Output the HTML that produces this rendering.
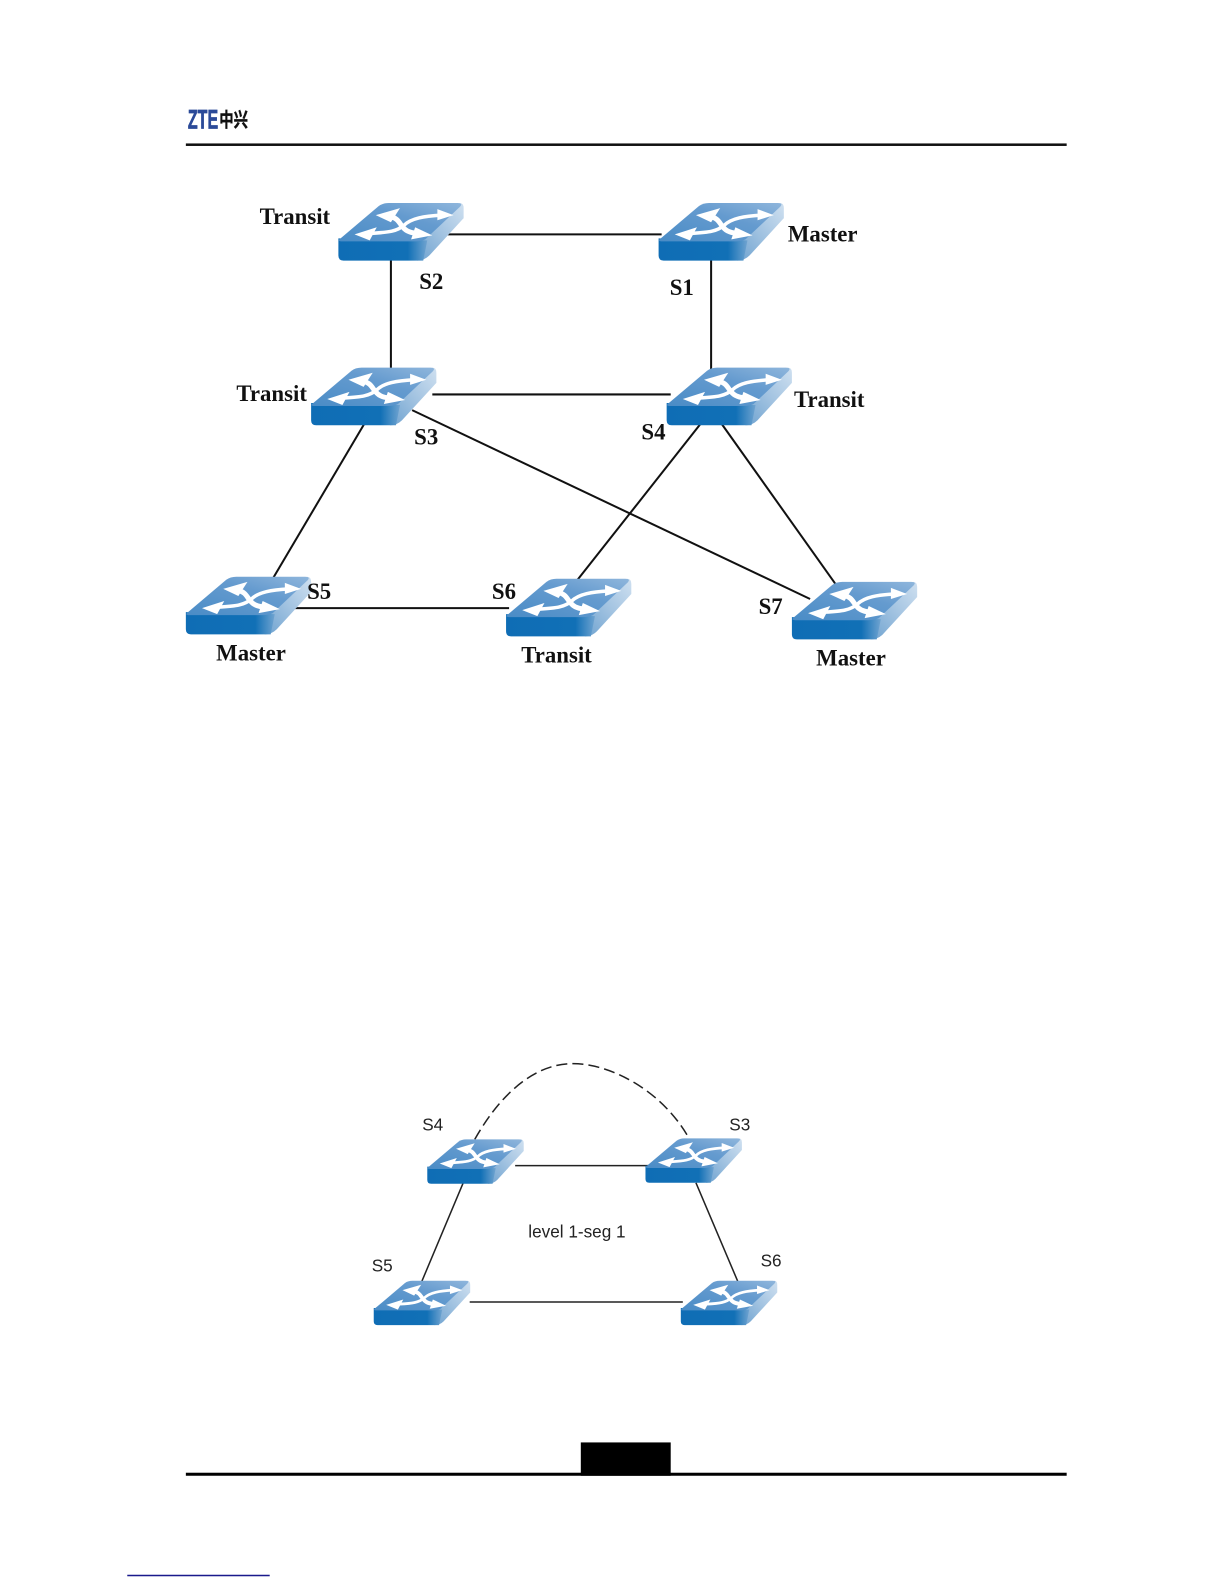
<!DOCTYPE html>
<html><head><meta charset="utf-8"><style>
html,body{margin:0;padding:0;background:#fff}
svg{display:block}
.b{font:bold 22.600px "Liberation Serif",serif;fill:#111}
.s{font:17px "Liberation Sans",sans-serif;fill:#222}
</style></head><body>
<svg width="1224" height="1584" viewBox="0 0 1224 1584" xmlns="http://www.w3.org/2000/svg">
<defs>
<linearGradient id="top" x1="0" y1="1" x2="1" y2="0"><stop offset="0" stop-color="#4a8cc6"/><stop offset=".6" stop-color="#659bcf"/><stop offset="1" stop-color="#8fb6dc"/></linearGradient>
<linearGradient id="front" x1="0" y1="0" x2="1" y2="0"><stop offset="0" stop-color="#0f6db5"/><stop offset=".78" stop-color="#1170b6"/><stop offset="1" stop-color="#6fa3d0"/></linearGradient>
<linearGradient id="side" x1="0" y1="1" x2="1" y2="0"><stop offset="0" stop-color="#6fa3d0"/><stop offset=".5" stop-color="#a2c3e1"/><stop offset="1" stop-color="#cfe0f0"/></linearGradient>
<g id="sw">
<path d="M80 37 L120 0 Q124 0 124 5 L124 15 L90 52 Q85 57 78 57 Z" fill="url(#side)"/>
<path d="M0 35 L88 37 L84 57 L5 57 Q0 57 0 52 Z" fill="url(#front)"/>
<path d="M1 36 L40 3 Q44 0 50 0 L118 0 Q124 0 120 4 L86 36 Q82 38 76 38 L4 38 Q-1 38 1 36 Z" fill="url(#top)"/>
<g fill="#fff">
<path d="M37 12 L61 5 L52 19 Z"/>
<path d="M114 12 L98 6 L98 17 Z"/>
<path d="M16 31 L38 24 L31 37 Z"/>
<path d="M93 32 L76 24 L72 36 Z"/>
</g>
<g fill="none" stroke="#fff" stroke-linecap="round">
<path d="M50 13 C60 15 60 20 64 24 C67 28 72 30 80 30" stroke-width="5"/>
<path d="M33 30 C50 29 58 28 65 22 C72 15 85 13 102 12" stroke-width="3.500"/>
</g>
</g>
</defs>
<rect width="1224" height="1584" fill="#fff"/>
<g transform="scale(1.0101)">

<!-- header -->
<text x="186" y="127" font-family="'Liberation Sans',sans-serif" font-weight="bold" font-size="27" fill="#2b4a98" stroke="#2b4a98" stroke-width=".7" textLength="30" lengthAdjust="spacingAndGlyphs">ZTE</text>
<text transform="translate(217 125) scale(.75 1)" font-family="'Liberation Sans','Noto Sans CJK SC',sans-serif" font-weight="bold" font-size="19" fill="#111" stroke="#111" stroke-width=".4">中兴</text>
<rect x="184" y="142" width="872" height="2.500" fill="#111"/>

<!-- top diagram lines -->
<g stroke="#111" stroke-width="2" fill="none">
<line x1="443" y1="232" x2="655" y2="232"/>
<line x1="387" y1="255" x2="387" y2="368"/>
<line x1="704" y1="255" x2="704" y2="368"/>
<line x1="428" y1="390.500" x2="664" y2="390.500"/>
<line x1="361" y1="419" x2="270" y2="573"/>
<line x1="694" y1="419" x2="571" y2="575"/>
<line x1="714" y1="419" x2="827" y2="578"/>
<line x1="408" y1="406" x2="802" y2="593"/>
<line x1="288" y1="602" x2="504" y2="602"/>
</g>

<use href="#sw" x="335" y="201"/>
<use href="#sw" x="652" y="201"/>
<use href="#sw" x="308" y="364"/>
<use href="#sw" x="660" y="364"/>
<use href="#sw" x="184" y="571"/>
<use href="#sw" x="501" y="573"/>
<use href="#sw" x="784" y="576"/>

<text class="b" x="257" y="222">Transit</text>
<text class="b" x="780" y="239">Master</text>
<text class="b" x="415" y="286">S2</text>
<text class="b" x="663" y="292">S1</text>
<text class="b" x="234" y="397">Transit</text>
<text class="b" x="786" y="403">Transit</text>
<text class="b" x="410" y="440">S3</text>
<text class="b" x="635" y="435">S4</text>
<text class="b" x="304" y="593">S5</text>
<text class="b" x="487" y="593">S6</text>
<text class="b" x="751" y="608">S7</text>
<text class="b" x="214" y="654">Master</text>
<text class="b" x="516" y="656">Transit</text>
<text class="b" x="808" y="659">Master</text>

<!-- bottom diagram lines -->
<g stroke="#222" stroke-width="1.500" fill="none">
<path d="M470 1128 C500 1075 535 1053 567 1053 C605 1053 655 1080 681 1125" stroke-dasharray="11 5"/>
<line x1="510" y1="1154" x2="642" y2="1154"/>
<line x1="459" y1="1170" x2="417" y2="1270"/>
<line x1="689" y1="1171" x2="731" y2="1270"/>
<line x1="465" y1="1289" x2="676" y2="1289"/>
</g>

<g transform="translate(423 1128) scale(.77)"><use href="#sw"/></g>
<g transform="translate(639 1127) scale(.77)"><use href="#sw"/></g>
<g transform="translate(370 1268) scale(.77)"><use href="#sw"/></g>
<g transform="translate(674 1268) scale(.77)"><use href="#sw"/></g>

<text class="s" x="418" y="1119">S4</text>
<text class="s" x="722" y="1119">S3</text>
<text class="s" x="368" y="1259">S5</text>
<text class="s" x="753" y="1254">S6</text>
<text class="s" x="523" y="1225">level 1-seg 1</text>

<!-- footer -->
<rect x="575" y="1428" width="89" height="33" fill="#000"/>
<rect x="184" y="1458" width="872" height="3" fill="#000"/>
<rect x="126" y="1559" width="141" height="1.500" fill="#1a1a8c"/>
</g>
</svg>
</body></html>
